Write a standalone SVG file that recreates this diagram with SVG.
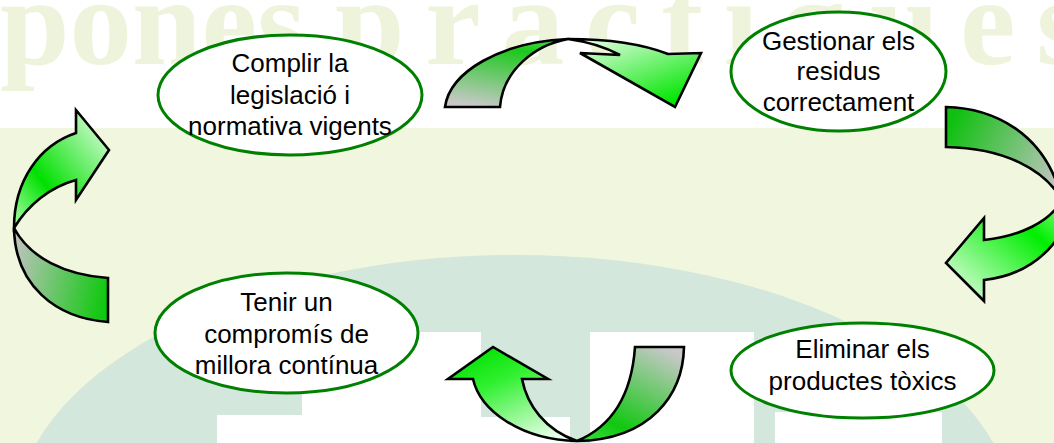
<svg xmlns="http://www.w3.org/2000/svg" width="1054" height="443" viewBox="0 0 1054 443">
<defs>
<style>
.node ellipse{fill:#ffffff;stroke:#008000;stroke-width:3}
.node text{font-family:"Liberation Sans",Arial,sans-serif;font-size:26px;fill:#000000;text-anchor:middle}
.arrow path{stroke:#000000;stroke-width:2.6;stroke-linejoin:miter}
.wm{font-family:"Liberation Serif","Times New Roman",serif;font-weight:bold;font-size:125px;fill:#eef4dc}
</style>
<linearGradient id="g1b" x1="0.3" y1="1" x2="0.6" y2="0"><stop offset="0" stop-color="#c8c8c8"/><stop offset="0.85" stop-color="#1cc81c"/><stop offset="1" stop-color="#3ad43a"/></linearGradient>
<linearGradient id="g1f" x1="0" y1="0" x2="0.7" y2="1"><stop offset="0" stop-color="#f4fff4"/><stop offset="1" stop-color="#00e600"/></linearGradient>
<linearGradient id="g2b" x1="0" y1="0.3" x2="1" y2="0.7"><stop offset="0" stop-color="#10c010"/><stop offset="1" stop-color="#c0c4c0"/></linearGradient>
<linearGradient id="g2f" x1="1" y1="0" x2="0" y2="1"><stop offset="0" stop-color="#90ff90"/><stop offset="0.3" stop-color="#00ee00"/><stop offset="1" stop-color="#f4fff4"/></linearGradient>
<linearGradient id="g3b" x1="0.8" y1="0" x2="0.2" y2="1"><stop offset="0" stop-color="#c8c8c8"/><stop offset="0.8" stop-color="#10c810"/><stop offset="1" stop-color="#30d830"/></linearGradient>
<linearGradient id="g3f" x1="0.2" y1="0" x2="0.8" y2="1"><stop offset="0" stop-color="#00e000"/><stop offset="0.35" stop-color="#30f030"/><stop offset="1" stop-color="#f0fff0"/></linearGradient>
<linearGradient id="g4b" x1="0" y1="0.4" x2="1" y2="0.6"><stop offset="0" stop-color="#b8c4b8"/><stop offset="1" stop-color="#10c810"/></linearGradient>
<linearGradient id="g4f" x1="0" y1="1" x2="1" y2="0"><stop offset="0" stop-color="#b0ffb0"/><stop offset="0.35" stop-color="#00e000"/><stop offset="1" stop-color="#f4fff4"/></linearGradient>
</defs>

<g id="background">
<rect x="0" y="0" width="1054" height="443" fill="#ffffff"/>
<text class="wm" x="0" y="64">pones</text>
<text class="wm" x="335" y="64" textLength="750" lengthAdjust="spacing">pràctiques</text>
<rect x="0" y="128" width="1054" height="315" fill="#f1f6de"/>
<ellipse cx="515" cy="520" rx="500" ry="265" fill="#d3e7dc"/>
<rect x="217" y="415" width="86" height="28" fill="#ffffff"/>
<rect x="302" y="332" width="179" height="111" fill="#ffffff"/>
<rect x="481" y="417" width="89" height="26" fill="#ffffff"/>
<rect x="590" y="332" width="164" height="111" fill="#ffffff"/>
<rect x="775" y="412" width="167" height="31" fill="#ffffff"/>
</g>

<g id="connectors" class="arrow">
<g id="arrow-top">
<path d="M 445 107 C 450 72, 500 42, 568 39 C 535 45, 503 70, 500 107 Z" fill="url(#g1b)"/>
<path d="M 568 39 C 610 39, 645 45, 668 54 L 701 53 L 675 107 L 580 53 L 620 55 C 605 47, 590 42, 568 39 Z" fill="url(#g1f)"/>
</g>
<g id="arrow-right">
<path d="M 946 107 C 990 108, 1045 130, 1062 200 C 1045 170, 1005 148, 946 147 Z" fill="url(#g2b)"/>
<path d="M 1062 200 C 1050 222, 1020 236, 984 240 L 984 218 L 946 263 L 984 301 L 984 280 C 1020 276, 1048 258, 1066 225 Z" fill="url(#g2f)"/>
</g>
<g id="arrow-bottom">
<path d="M 635 347 L 684 347 C 683 395, 650 440, 577 441 C 615 425, 632 390, 635 347 Z" fill="url(#g3b)"/>
<path d="M 577 441 C 545 430, 527 405, 522 379 L 548 379 L 493 347 L 448 379 L 473 379 C 480 410, 520 440, 577 441 Z" fill="url(#g3f)"/>
</g>
<g id="arrow-left">
<path d="M 108 278 L 108 322 C 55 318, 15 285, 14 228 C 30 258, 65 275, 108 278 Z" fill="url(#g4b)"/>
<path d="M 14 228 C 14 180, 40 145, 76 133 L 76 110 L 109 150 L 76 200 L 76 180 C 50 187, 28 205, 14 228 Z" fill="url(#g4f)"/>
</g>
</g>

<g id="node-complir" class="node">
<ellipse cx="290" cy="95" rx="132" ry="60"/>
<text x="290" y="72">Complir la</text>
<text x="290" y="103.5">legislació i</text>
<text x="290" y="135">normativa vigents</text>
</g>
<g id="node-gestionar" class="node">
<ellipse cx="838.5" cy="71.5" rx="107.5" ry="59.5"/>
<text x="838.5" y="49.5">Gestionar els</text>
<text x="838.5" y="80">residus</text>
<text x="838.5" y="110.5">correctament</text>
</g>
<g id="node-eliminar" class="node">
<ellipse cx="862.5" cy="370.5" rx="131.5" ry="47.5"/>
<text x="862.5" y="358">Eliminar els</text>
<text x="862.5" y="390">productes tòxics</text>
</g>
<g id="node-tenir" class="node">
<ellipse cx="286.5" cy="333" rx="131.5" ry="60"/>
<text x="286.5" y="311">Tenir un</text>
<text x="286.5" y="343">compromís de</text>
<text x="286.5" y="374">millora contínua</text>
</g>
</svg>
